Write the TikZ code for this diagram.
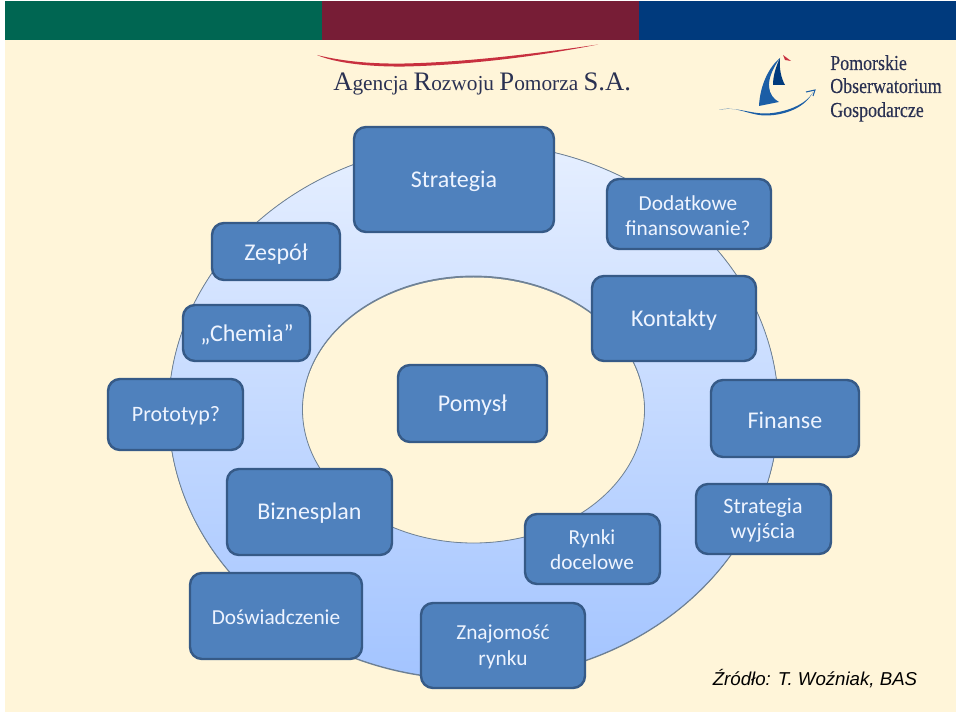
\documentclass[tikz,border=0pt]{standalone}
\usepackage{fontspec}
\setmainfont{Carlito}
\newfontfamily\serifl{Liberation Serif}
\newfontfamily\seriflc[FakeStretch=0.84,FakeBold=0.2]{Liberation Serif}
\newfontfamily\arial{Liberation Sans}
\definecolor{cream}{HTML}{FFF5D9}
\definecolor{boxfill}{HTML}{4F81BD}
\definecolor{boxline}{HTML}{365A87}
\definecolor{ringtop}{HTML}{E6EFFF}
\definecolor{ringbot}{HTML}{A3C4FF}
\definecolor{ringline}{HTML}{6F8296}
\definecolor{barg}{HTML}{006652}
\definecolor{barm}{HTML}{771D36}
\definecolor{barb}{HTML}{003A7D}
\definecolor{ink}{HTML}{2A3152}
\definecolor{sailb}{HTML}{1B5EA6}
\definecolor{brush}{HTML}{C8303F}
\definecolor{txt}{HTML}{EEF4FF}
\tikzset{
 bx/.style={draw=boxline,line width=1.8pt,fill=boxfill,rounded corners=9pt,inner sep=0pt},
 lbl/.style={text=txt,align=center,inner sep=0pt},
 big/.style={lbl,font=\fontsize{18}{19}\selectfont},
 mid/.style={lbl,font=\fontsize{16.5}{19}\selectfont},
 sml/.style={lbl,font=\fontsize{16}{19}\selectfont},
 logo/.style={text=ink,inner sep=0pt,anchor=base west},
 pog/.style={logo,font=\seriflc\fontsize{16}{18}\selectfont}
}
\newcommand{\bxat}[5]{% name, x0,y0,x1,y1
 \node[bx,minimum width=(#4-#2)*0.75pt,minimum height=(#5-#3)*0.75pt] (#1) at ({(#2+#4)/2},{(#3+#5)/2}) {};}
\begin{document}
\begin{tikzpicture}[x=0.75pt,y=-0.75pt]
\useasboundingbox (0,0) rectangle (960,716);
\fill[white] (0,0) rectangle (960,716);
\fill[cream] (5,1) rectangle (956,712);
\fill[barg] (5,1) rectangle (322,40);
\fill[barm] (322,1) rectangle (639,40);
\fill[barb] (639,1) rectangle (956,40);
% ring
\fill[ringline] (473.5,412) ellipse [x radius=305,y radius=268];
\fill[even odd rule,top color=ringtop,bottom color=ringbot,draw=none]
 (473.5,411) ellipse [x radius=305,y radius=268] (473.5,409.5) ellipse [x radius=171,y radius=133.5];
\draw[ringline,line width=0.6pt] (473.5,411) ellipse [x radius=305,y radius=268];
\begin{scope}
\clip (473.5,409.5) ellipse [x radius=171,y radius=133.5];
\fill[ringline] (473.5,409.5) ellipse [x radius=171,y radius=133.5];
\fill[cream] (473.5,411) ellipse [x radius=171,y radius=133.5];
\end{scope}
\draw[ringline,line width=0.6pt] (473.5,409.5) ellipse [x radius=171,y radius=133.5];
% boxes
\bxat{a}{354}{127}{554}{232}
\bxat{b}{212}{223}{340}{280}
\bxat{c}{607}{179}{771}{249}
\bxat{d}{183}{305}{310}{361}
\bxat{e}{592}{276}{756}{361}
\bxat{f}{108}{379}{243}{450}
\bxat{g}{398}{365}{547}{442}
\bxat{h}{711}{380}{859}{457}
\bxat{i}{227}{469}{392}{555}
\bxat{j}{525}{514}{660}{584}
\bxat{k}{696}{484}{831}{554}
\bxat{l}{190}{573}{362}{659}
\bxat{m}{421}{603}{585}{688}
\node[big] (ta) at (454,181) {Strategia};
\node[big] (tb) at (276,254) {Zespół};
\node[sml] (tc) at (688,215.5) {Dodatkowe\\finansowanie?};
\node[big] (td) at (247,334.5) {„Chemia”};
\node[big] (te) at (674,320.5) {Kontakty};
\node[mid] (tf) at (176,416) {Prototyp?};
\node[big] (tg) at (472.5,405) {Pomysł};
\node[big] (th) at (785,420) {Finanse};
\node[big] (ti) at (309.5,513) {Biznesplan};
\node[sml] (tj) at (592,549.5) {Rynki\\docelowe};
\node[mid] (tk) at (763,520) {Strategia\\wyjścia};
\node[sml] (tl) at (276,617) {Doświadczenie};
\node[sml] (tm) at (503,647) {Znajomość\\rynku};
\node[inner sep=0pt,text=black,font=\arial\itshape\fontsize{14}{17}\selectfont] (src) at (815,679) {Źródło: T. Woźniak, BAS};
% left logo
\fill[brush] (317,55) .. controls (345,62) and (375,64) .. (405,63.5) .. controls (470,62) and (540,53) .. (598,44.5) .. controls (540,56) and (470,65) .. (405,66.5) .. controls (370,67) and (335,63) .. (317,55) -- cycle;
\node[logo] (ag) at (333,91) {\serifl\color{ink}\fontsize{20}{22}\selectfont A\fontsize{16}{22}\selectfont gencja \fontsize{20}{22}\selectfont R\fontsize{16}{22}\selectfont ozwoju \fontsize{20}{22}\selectfont P\fontsize{16}{22}\selectfont omorza \fontsize{20}{22}\selectfont S.A.};
% right logo
\fill[sailb] (780,58) .. controls (769,67) and (760,85) .. (759,106) -- (779,102) .. controls (768,96) and (763,82) .. (780,58) -- cycle;
\fill[barb] (780,58) .. controls (776,66) and (773,76) .. (773,85) -- (785,85) .. controls (781,78) and (779,68) .. (780,58) -- cycle;
\fill[brush] (783,55) -- (791,61) -- (785,60) -- cycle;
\fill[sailb] (719,110) .. controls (735,105) and (750,116) .. (767,115.5) .. controls (785,115) and (805,108) .. (813,92) .. controls (806,105) and (785,112.5) .. (767,113.5) .. controls (750,114) and (735,106) .. (719,110) -- cycle;
\draw[sailb,line width=0.8pt] (806,92) -- (815,90) -- (813,96);
\node[pog] (po1) at (830,70) {Pomorskie};
\node[pog] (po2) at (830,93) {Obserwatorium};
\node[pog] (po3) at (830,117) {Gospodarcze};
\end{tikzpicture}
\end{document}
